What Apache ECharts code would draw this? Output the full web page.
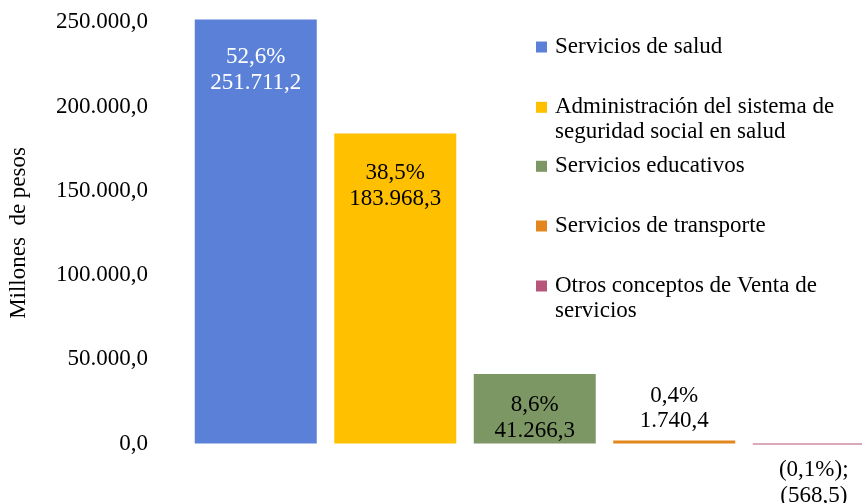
<!DOCTYPE html>
<html>
<head>
<meta charset="utf-8">
<script src="https://cdn.jsdelivr.net/npm/echarts@6/dist/echarts.min.js"></script>
<style>html,body{margin:0;padding:0;background:#fff}#c{width:862px;height:503px}</style>
</head>
<body>
<div id="c"></div>
<script>
const categories = ['Servicios de salud', 'Administración del sistema de seguridad social en salud', 'Servicios educativos', 'Servicios de transporte', 'Otros conceptos de Venta de servicios'];
const legendLines = [['Servicios de salud'], ['Administración del sistema de', 'seguridad social en salud'], ['Servicios educativos'], ['Servicios de transporte'], ['Otros conceptos de Venta de', 'servicios']];
const values = [251711.2, 183968.3, 41266.3, 1740.4, -568.5];
const shares = [52.6, 38.5, 8.6, 0.4, -0.1];
const yTicks = [0, 50000, 100000, 150000, 200000, 250000];
const colors = ['#5A80D8', '#FFC000', '#7C9664', '#E3871C', '#B8557A'];

const FONT = 'Liberation Serif';
function fmt(v, d) {
  const s = Math.abs(v).toFixed(d);
  const parts = s.split('.');
  return parts[0].replace(/\B(?=(\d{3})+(?!\d))/g, '.') + ',' + parts[1];
}
function labelText(i) {
  if (values[i] < 0) return '(' + fmt(shares[i], 1) + '%);\n(' + fmt(values[i], 1) + ')';
  return fmt(shares[i], 1) + '%\n' + fmt(values[i], 1);
}
const labelCfg = [
  {position: 'insideTop', distance: 24, color: '#fff'},
  {position: 'insideTop', distance: 26, color: '#000'},
  {position: 'insideTop', distance: 18, color: '#000'},
  {position: 'top', distance: 7, color: '#000'},
  {position: 'bottom', distance: 12, color: '#000'}
];
const legendTops = [34.5, 69.8, 153.8, 213.5, 248.5];

const series = categories.map((name, i) => ({
  name: name,
  type: 'bar',
  stack: 'all',
  barWidth: 122,
  clip: false,
  itemStyle: {color: colors[i]},
  data: categories.map((c, j) => j === i ? values[i] : '-'),
  label: {
    show: true,
    position: labelCfg[i].position,
    distance: labelCfg[i].distance,
    color: labelCfg[i].color,
    fontFamily: FONT,
    fontSize: 23,
    lineHeight: i === 3 ? 25 : 26,
    align: 'center',
    formatter: () => labelText(i)
  }
}));

const legends = categories.map((name, i) => ({
  data: [name],
  left: 536,
  top: legendTops[i],
  padding: 0,
  icon: 'rect',
  itemWidth: 11,
  itemHeight: 11,
  selectedMode: false,
  formatter: () => (legendLines[i].length > 1 ? '{t| }\n' : '') + legendLines[i].map(l => '{t|' + l + '}').join('\n'),
  textStyle: {
    fontFamily: FONT,
    fontSize: 23,
    lineHeight: 25,
    color: '#000',
    rich: {
      t: {fontFamily: FONT, fontSize: 23, lineHeight: 25, color: '#000', padding: [0, 0, 0, 3]}
    }
  }
}));

const chart = echarts.init(document.getElementById('c'), null, {renderer: 'canvas'});
chart.setOption({
  animation: false,
  backgroundColor: '#fff',
  grid: {left: 186, right: -21.5, top: 22.4, bottom: 59.5, containLabel: false, outerBoundsMode: 'none'},
  legend: legends,
  xAxis: {
    type: 'category',
    data: categories,
    axisLine: {show: false},
    axisTick: {show: false},
    axisLabel: {show: false},
    splitLine: {show: false}
  },
  yAxis: {
    type: 'value',
    min: yTicks[0],
    max: yTicks[yTicks.length - 1],
    interval: yTicks[1] - yTicks[0],
    name: 'Millones  de pesos',
    nameLocation: 'middle',
    nameGap: 156,
    nameTextStyle: {fontFamily: FONT, fontSize: 23, color: '#000'},
    axisLine: {show: false},
    axisTick: {show: false},
    splitLine: {show: false},
    axisLabel: {
      margin: 38,
      fontFamily: FONT,
      fontSize: 23,
      color: '#000',
      formatter: v => fmt(v, 1)
    }
  },
  series: series
});
</script>
</body>
</html>
